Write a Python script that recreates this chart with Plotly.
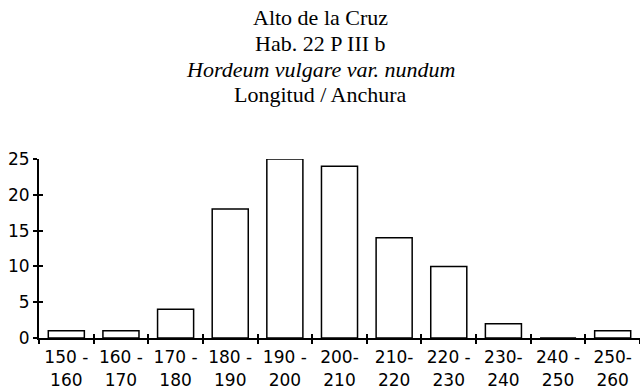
import plotly.graph_objects as go

# Grain length classes (µm) and counts
categories = ["150-160", "160-170", "170-180", "180-190", "190-200", "200-210",
              "210-220", "220-230", "230-240", "240-250", "250-260"]
tick_labels = ["150 -<br>160", "160 -<br>170", "170 -<br>180", "180 -<br>190",
               "190 -<br>200", "200-<br>210", "210-<br>220", "220 -<br>230",
               "230-<br>240", "240 -<br>250", "250-<br>260"]
counts = [1, 1, 4, 18, 25, 24, 14, 10, 2, 0, 1]
y_ticks = [0, 5, 10, 15, 20, 25]
class_boundaries = [i + 0.5 for i in range(len(categories) - 1)]

title_lines = ["Alto de la Cruz", "Hab. 22 P III b",
               "<i>Hordeum vulgare var. nundum</i>", "Longitud / Anchura"]

label_font = dict(family="DejaVu Sans", size=17, color="black")

fig = go.Figure()
fig.add_trace(go.Bar(
    x=categories, y=counts,
    marker=dict(color="white", line=dict(color="black", width=1.5)),
    showlegend=False, hoverinfo="skip",
))
# companion trace so the inner half of the crossing ticks gets drawn
fig.add_trace(go.Scatter(x=[], y=[], xaxis="x2", yaxis="y2",
                         showlegend=False, hoverinfo="skip"))

# four centred heading lines above the plot
for i, line in enumerate(title_lines):
    fig.add_annotation(
        text=line, xref="paper", yref="paper",
        x=0.4676, y=1.788 - i * 0.143,
        xanchor="center", yanchor="middle", showarrow=False,
        font=dict(family="Liberation Serif", size=22, color="black"),
    )

fig.update_layout(
    width=640, height=392,
    margin=dict(l=39, r=0, t=159, b=54),
    paper_bgcolor="white", plot_bgcolor="white",
    bargap=0.34,
    xaxis=dict(
        type="category", categoryorder="array", categoryarray=categories,
        tickmode="array", tickvals=categories, ticktext=tick_labels,
        range=[-0.5, len(categories) - 0.5],
        showline=True, linecolor="black", linewidth=2,
        ticks="outside", tickson="boundaries", ticklen=4, tickwidth=1.5, tickcolor="black",
        ticklabelstandoff=3,
        tickfont=label_font, showgrid=False, zeroline=False,
    ),
    xaxis2=dict(
        overlaying="x", anchor="y", side="bottom",
        range=[-0.5, len(categories) - 0.5],
        tickmode="array", tickvals=class_boundaries,
        ticks="inside", ticklen=4, tickwidth=1.5, tickcolor="black",
        showticklabels=False, showline=False, showgrid=False, zeroline=False,
    ),
    yaxis=dict(
        range=[0, 25], tickmode="array", tickvals=y_ticks,
        showline=True, linecolor="black", linewidth=2,
        ticks="outside", ticklen=4, tickwidth=1.5, tickcolor="black",
        tickfont=label_font, showgrid=False, zeroline=False,
    ),
    yaxis2=dict(
        overlaying="y", anchor="x", side="left",
        range=[0, 25], tickmode="array", tickvals=y_ticks,
        ticks="inside", ticklen=4, tickwidth=1.5, tickcolor="black",
        showticklabels=False, showline=False, showgrid=False, zeroline=False,
    ),
)

fig.write_html("out.html")
